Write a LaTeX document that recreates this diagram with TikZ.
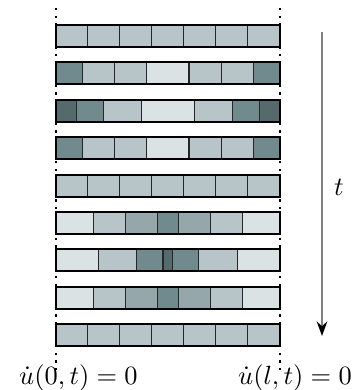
\documentclass[tikz,border=0pt]{standalone}
\usetikzlibrary{arrows.meta}
\definecolor{cA}{HTML}{56696C}
\definecolor{cB}{HTML}{708A8E}
\definecolor{cC}{HTML}{95A7AA}
\definecolor{cD}{HTML}{B7C5C8}
\definecolor{cE}{HTML}{DBE2E3}
\tikzset{
  cellline/.style={draw=black!85, line width=0.4pt},
  barframe/.style={draw=black, line width=0.8pt},
  wall/.style={line width=0.9pt, dotted},
  timearrow/.style={draw=black!50, line width=0.7pt, -{Stealth[black, length=5.5pt, width=4pt, inset=1.8pt]}},
  lbl/.style={inner sep=0pt, font=\normalsize}
}
% a bar: #1 = top y, #2 = macro holding boundary/colour triples
\newcommand{\barrow}[2]{%
  \foreach \xa/\xb/\cc in #2 {
    \filldraw[fill=\cc, cellline] (\xa,#1) rectangle (\xb,#1+22);
  }
  \draw[barframe] (55.7,#1) rectangle (280,#1+22);
}
\def\rowA{55.7/87.74/cD,87.74/119.78/cD,119.78/151.82/cD,151.82/183.86/cD,183.86/215.9/cD,215.9/247.94/cD,247.94/280/cD}
\def\rowB{55.7/82.3/cB,82.3/114.3/cD,114.3/146.7/cD,146.7/189/cE,189/221.4/cD,221.4/253.4/cD,253.4/280/cB}
\def\rowC{55.7/76.4/cA,76.4/103.6/cB,103.6/141.2/cD,141.2/194.5/cE,194.5/232.1/cD,232.1/259.3/cB,259.3/280/cA}
\def\rowD{55.7/93.2/cE,93.2/125.1/cD,125.1/157.4/cC,157.4/178.3/cB,178.3/210.6/cC,210.6/242.5/cD,242.5/280/cE}
\def\rowE{55.7/98.2/cE,98.2/136.9/cD,136.9/163/cB,163/172.7/cA,172.7/198.8/cB,198.8/237.5/cD,237.5/280/cE}
\begin{document}
\begin{tikzpicture}[x=0.3788pt,y=-0.3788pt]
\useasboundingbox (0,0) rectangle (358,390);
% walls
\coordinate (wl1) at (56,8);
\coordinate (wl2) at (56,372);
\coordinate (wr1) at (280,8);
\coordinate (wr2) at (280,372);
\draw[wall] (wl1) -- (wl2);
\draw[wall] (wr1) -- (wr2);
% rows
\barrow{25}{\rowA}
\barrow{62.4}{\rowB}
\barrow{99.8}{\rowC}
\barrow{137.2}{\rowB}
\barrow{174.6}{\rowA}
\barrow{212}{\rowD}
\barrow{249.4}{\rowE}
\barrow{286.8}{\rowD}
\barrow{324.2}{\rowA}
% time arrow
\coordinate (ta) at (322,32);
\coordinate (tb) at (322,336);
\draw[timearrow] (ta) -- (tb);
\node[lbl] (tl) at (339,187) {$t$};
% boundary conditions
\node[lbl] (bl) at (78.5,378) {$\dot u(0,t)=0$};
\node[lbl] (br) at (295,378) {$\dot u(l,t)=0$};
\end{tikzpicture}
\end{document}
